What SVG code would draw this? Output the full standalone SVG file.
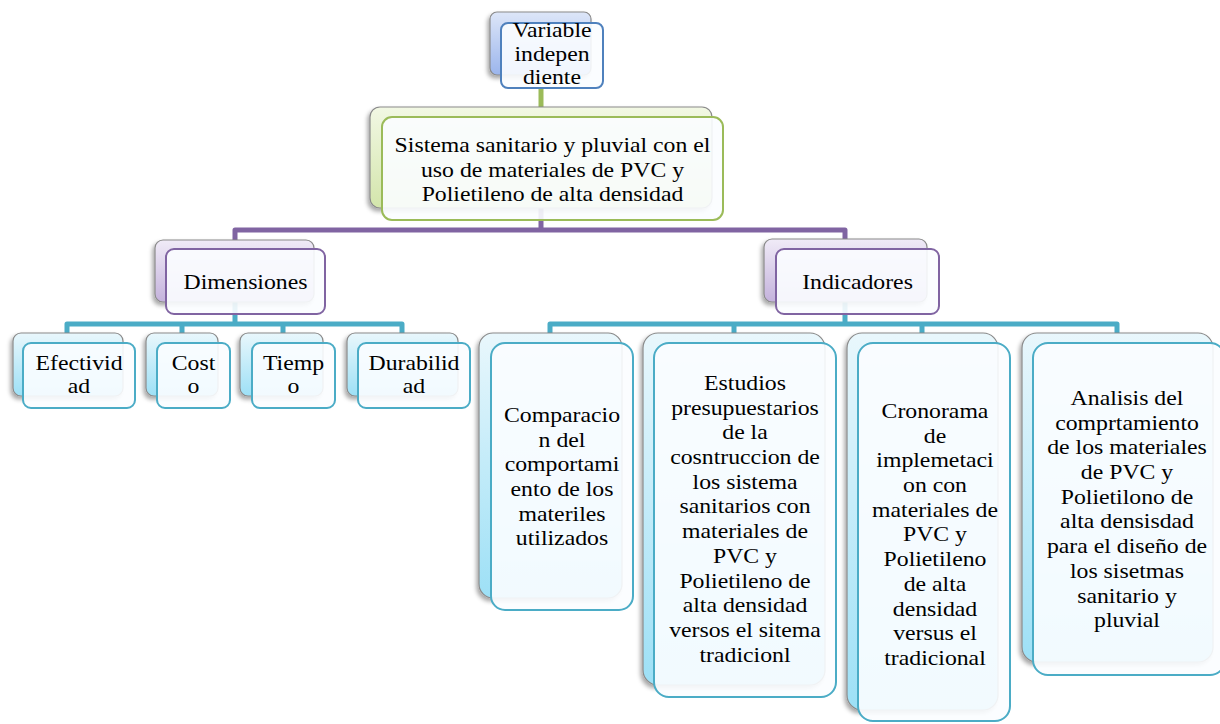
<svg xmlns="http://www.w3.org/2000/svg" width="1220" height="724" viewBox="0 0 1220 724">
  <defs>
    <linearGradient id="gBlue" x1="0" y1="0" x2="0" y2="1">
      <stop offset="0" stop-color="#dde6f8"/>
      <stop offset="1" stop-color="#9bb5ec"/>
    </linearGradient>
    <linearGradient id="gGreen" x1="0" y1="0" x2="0" y2="1">
      <stop offset="0" stop-color="#f2f8e4"/>
      <stop offset="1" stop-color="#d3e5ab"/>
    </linearGradient>
    <linearGradient id="gPurple" x1="0" y1="0" x2="0" y2="1">
      <stop offset="0" stop-color="#f0ebf7"/>
      <stop offset="1" stop-color="#c4b2dc"/>
    </linearGradient>
    <linearGradient id="gCyan" x1="0" y1="0" x2="0" y2="1">
      <stop offset="0" stop-color="#e9f7fc"/>
      <stop offset="1" stop-color="#9de0f6"/>
    </linearGradient>
    <filter id="sh" x="-20%" y="-20%" width="140%" height="140%">
      <feDropShadow dx="-2" dy="3" stdDeviation="2" flood-color="#000" flood-opacity="0.35"/>
    </filter>
  </defs>
  <style>
    text{font-family:'Liberation Serif','DejaVu Serif',serif;font-size:22px;fill:#000;text-anchor:middle}
    .back{stroke:#8a8a8a;stroke-width:1.2;filter:url(#sh)}
    .front{fill:#fbfdff;fill-opacity:0.9;stroke-width:2}
    .conn{fill:none;stroke-width:5;stroke-linejoin:round}
    .blue .back{fill:url(#gBlue)}
    .blue .front{stroke:#4f81bd}
    .green .back{fill:url(#gGreen)}
    .green .front{stroke:#9bbb59}
    .purple .back{fill:url(#gPurple)}
    .purple .front{stroke:#8064a2}
    .cyan .back{fill:url(#gCyan)}
    .cyan .front{stroke:#4bacc6}
  </style>

  <rect width="1220" height="724" fill="#fff"/>

  <!-- connectors -->
  <g id="connectors">
    <path class="conn" stroke="#9bbb59" d="M541 88V107"/>
    <path class="conn" stroke="#8064a2" d="M541 208V230M235 240V230H845V240"/>
    <path class="conn" stroke="#4bacc6" d="M235 302V324M67 333V324H402V333M182 324V333M283 324V333"/>
    <path class="conn" stroke="#4bacc6" d="M845 302V324M550 333V324H1117V333M734 324V333M922 324V333"/>
  </g>

  <!-- root -->
  <g id="variable" class="blue">
    <rect class="back" x="490" y="12" width="101" height="63" rx="7"/>
    <rect class="front" x="501" y="23" width="102" height="65" rx="7"/>
    <text font-family="Liberation Serif, serif" transform="translate(552 0) scale(1.08 1)">
      <tspan x="0" y="37.5">Variable</tspan><tspan x="0" y="61">indepen</tspan><tspan x="0" y="84.5">diente</tspan>
    </text>
  </g>

  <g id="sistema" class="green">
    <rect class="back" x="370" y="107" width="342" height="101" rx="10"/>
    <rect class="front" x="382" y="117" width="341" height="103" rx="10"/>
    <text font-family="Liberation Serif, serif" transform="translate(552.5 0) scale(1.08 1)">
      <tspan x="0" y="152">Sistema sanitario y pluvial con el</tspan><tspan x="0" y="177">uso de materiales de PVC y</tspan><tspan x="0" y="201">Polietileno de alta densidad</tspan>
    </text>
  </g>

  <g id="dimensiones" class="purple">
    <rect class="back" x="155" y="240" width="159" height="62" rx="8"/>
    <rect class="front" x="166" y="249" width="159" height="65" rx="8"/>
    <text font-family="Liberation Serif, serif" transform="translate(245.5 0) scale(1.08 1)"><tspan x="0" y="289">Dimensiones</tspan></text>
  </g>

  <g id="indicadores" class="purple">
    <rect class="back" x="764" y="239" width="163" height="63" rx="8"/>
    <rect class="front" x="776" y="249" width="163" height="65" rx="8"/>
    <text font-family="Liberation Serif, serif" transform="translate(857.5 0) scale(1.08 1)"><tspan x="0" y="289">Indicadores</tspan></text>
  </g>

  <!-- dimensions -->
  <g id="efectividad" class="cyan">
    <rect class="back" x="13" y="333" width="110" height="63" rx="8"/>
    <rect class="front" x="23" y="343" width="112" height="65" rx="8"/>
    <text font-family="Liberation Serif, serif" transform="translate(79 0) scale(1.08 1)"><tspan x="0" y="370">Efectivid</tspan><tspan x="0" y="393">ad</tspan></text>
  </g>
  <g id="costo" class="cyan">
    <rect class="back" x="146" y="333" width="72" height="63" rx="8"/>
    <rect class="front" x="157" y="343" width="73" height="65" rx="8"/>
    <text font-family="Liberation Serif, serif" transform="translate(193.5 0) scale(1.08 1)"><tspan x="0" y="370">Cost</tspan><tspan x="0" y="393">o</tspan></text>
  </g>
  <g id="tiempo" class="cyan">
    <rect class="back" x="240" y="333" width="83" height="63" rx="8"/>
    <rect class="front" x="252" y="343" width="83" height="65" rx="8"/>
    <text font-family="Liberation Serif, serif" transform="translate(293.5 0) scale(1.08 1)"><tspan x="0" y="370">Tiemp</tspan><tspan x="0" y="393">o</tspan></text>
  </g>
  <g id="durabilidad" class="cyan">
    <rect class="back" x="347" y="333" width="111" height="63" rx="8"/>
    <rect class="front" x="358" y="343" width="112" height="65" rx="8"/>
    <text font-family="Liberation Serif, serif" transform="translate(414 0) scale(1.08 1)"><tspan x="0" y="370">Durabilid</tspan><tspan x="0" y="393">ad</tspan></text>
  </g>

  <!-- indicators -->
  <g id="comparacion" class="cyan">
    <rect class="back" x="479" y="333" width="143" height="265" rx="14"/>
    <rect class="front" x="491" y="343" width="142" height="267" rx="14"/>
    <text font-family="Liberation Serif, serif" transform="translate(562 0) scale(1.08 1)">
      <tspan x="0" y="422">Comparacio</tspan><tspan x="0" dy="24.7">n del</tspan><tspan x="0" dy="24.7">comportami</tspan><tspan x="0" dy="24.7">ento de los</tspan><tspan x="0" dy="24.7">materiles</tspan><tspan x="0" dy="24.7">utilizados</tspan>
    </text>
  </g>
  <g id="estudios" class="cyan">
    <rect class="back" x="643" y="333" width="182" height="352" rx="15"/>
    <rect class="front" x="654" y="343" width="182" height="354" rx="15"/>
    <text font-family="Liberation Serif, serif" transform="translate(745 0) scale(1.08 1)">
      <tspan x="0" y="390">Estudios</tspan><tspan x="0" dy="24.7">presupuestarios</tspan><tspan x="0" dy="24.7">de la</tspan><tspan x="0" dy="24.7">cosntruccion de</tspan><tspan x="0" dy="24.7">los sistema</tspan><tspan x="0" dy="24.7">sanitarios con</tspan><tspan x="0" dy="24.7">materiales de</tspan><tspan x="0" dy="24.7">PVC y</tspan><tspan x="0" dy="24.7">Polietileno de</tspan><tspan x="0" dy="24.7">alta densidad</tspan><tspan x="0" dy="24.7">versos el sitema</tspan><tspan x="0" dy="24.7">tradicionl</tspan>
    </text>
  </g>
  <g id="cronorama" class="cyan">
    <rect class="back" x="847" y="333" width="151" height="377" rx="15"/>
    <rect class="front" x="858" y="343" width="152" height="378" rx="15"/>
    <text font-family="Liberation Serif, serif" transform="translate(935 0) scale(1.08 1)">
      <tspan x="0" y="418">Cronorama</tspan><tspan x="0" dy="24.7">de</tspan><tspan x="0" dy="24.7">implemetaci</tspan><tspan x="0" dy="24.7">on con</tspan><tspan x="0" dy="24.7">materiales de</tspan><tspan x="0" dy="24.7">PVC y</tspan><tspan x="0" dy="24.7">Polietileno</tspan><tspan x="0" dy="24.7">de alta</tspan><tspan x="0" dy="24.7">densidad</tspan><tspan x="0" dy="24.7">versus el</tspan><tspan x="0" dy="24.7">tradicional</tspan>
    </text>
  </g>
  <g id="analisis" class="cyan">
    <rect class="back" x="1022" y="333" width="191" height="329" rx="15"/>
    <rect class="front" x="1033" y="343" width="192" height="332" rx="15"/>
    <text font-family="Liberation Serif, serif" transform="translate(1127 0) scale(1.08 1)">
      <tspan x="0" y="405">Analisis del</tspan><tspan x="0" dy="24.7">comprtamiento</tspan><tspan x="0" dy="24.7">de los materiales</tspan><tspan x="0" dy="24.7">de PVC y</tspan><tspan x="0" dy="24.7">Polietilono de</tspan><tspan x="0" dy="24.7">alta densisdad</tspan><tspan x="0" dy="24.7">para el diseño de</tspan><tspan x="0" dy="24.7">los sisetmas</tspan><tspan x="0" dy="24.7">sanitario y</tspan><tspan x="0" dy="24.7">pluvial</tspan>
    </text>
  </g>
</svg>
